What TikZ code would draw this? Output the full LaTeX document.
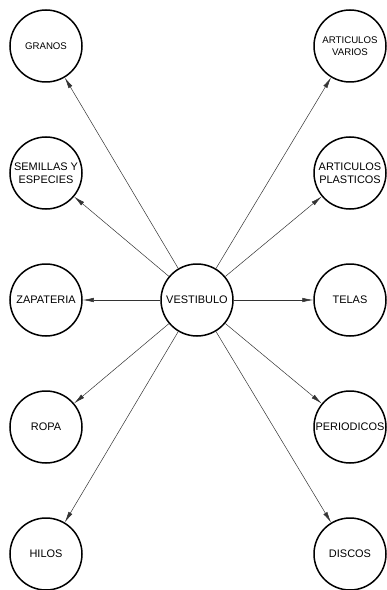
\documentclass[tikz,border=0pt]{standalone}
\usepackage{fontspec}
\setmainfont{Liberation Sans}
\usetikzlibrary{arrows.meta}

\begin{document}
\begin{tikzpicture}[x=1bp, y=-1bp,
    area/.style={circle, draw, line width=1.5bp, minimum size=72bp, inner sep=0pt,
                 align=center, font=\fontsize{11}{13}\selectfont},
    small/.style={font=\fontsize{9.7}{12}\selectfont},
    flow/.style={line width=0.5bp, draw=black!80, -{Latex[length=11bp, width=4.5bp]}}]
    \useasboundingbox (0,0) rectangle (386,590);

    \node [area] (vestibulo) at (197,300) {VESTIBULO};

    % left column
    \node [area, small] (granos)    at (46,46)  {GRANOS};
    \node [area]        (semillas)  at (46,173) {SEMILLAS Y\\ESPECIES};
    \node [area]        (zapateria) at (46,300) {ZAPATERIA};
    \node [area]        (ropa)      at (46,427) {ROPA};
    \node [area]        (hilos)     at (46,554) {HILOS};

    % right column
    \node [area, small] (varios)     at (350,46)  {ARTICULOS\\VARIOS};
    \node [area]        (plasticos)  at (350,173) {ARTICULOS\\PLASTICOS};
    \node [area]        (telas)      at (350,300) {TELAS};
    \node [area]        (periodicos) at (350,427) {PERIODICOS};
    \node [area]        (discos)     at (350,554) {DISCOS};

    \foreach \n in {granos, semillas, zapateria, ropa, hilos,
                    varios, plasticos, telas, periodicos, discos}
        \draw [flow] (vestibulo) -- (\n);
\end{tikzpicture}
\end{document}
